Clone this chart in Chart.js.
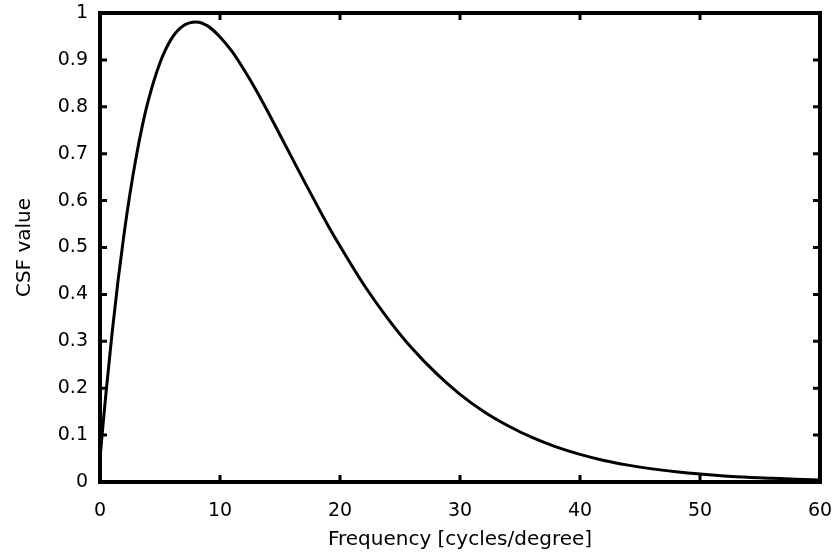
<!DOCTYPE html>
<html>
<head>
<meta charset="utf-8">
<script src="https://cdn.jsdelivr.net/npm/chart.js@4/dist/chart.umd.min.js"></script>
<style>
  html, body { margin: 0; padding: 0; background: #fff; }
  #wrap { width: 834px; height: 560px; }
</style>
</head>
<body>
<div id="wrap"><canvas id="c" width="834" height="560"></canvas></div>
<script>
// Spatial frequency (cycles/degree)
const frequency = [0, 0.25, 0.5, 1, 1.5, 2, 2.5, 3, 3.5, 4, 5, 6, 7, 8, 9, 10, 11, 12, 13, 14, 15, 16, 17, 18, 19, 20,
  22, 24, 26, 28, 30, 32, 34, 36, 38, 40, 42, 44, 46, 48, 50, 52, 54, 56, 58, 60];
// CSF value
const csfValue = [0.050, 0.122, 0.190, 0.316, 0.429, 0.528, 0.615, 0.691, 0.756, 0.811, 0.894, 0.947, 0.974, 0.981, 0.972, 0.949,
  0.918, 0.879, 0.836, 0.789, 0.740, 0.691, 0.642, 0.594, 0.547, 0.503,
  0.420, 0.348, 0.285, 0.232, 0.187, 0.150, 0.120, 0.095, 0.075, 0.059, 0.046, 0.036, 0.028, 0.022, 0.017, 0.013, 0.010, 0.008, 0.006, 0.0045];
const xTicks = [0, 10, 20, 30, 40, 50, 60];
const yTicks = [0, 0.1, 0.2, 0.3, 0.4, 0.5, 0.6, 0.7, 0.8, 0.9, 1];
const xTitle = 'Frequency [cycles/degree]';
const yTitle = 'CSF value';

const FONT = '"DejaVu Sans", Verdana, sans-serif';

const framePlugin = {
  id: 'frame',
  afterDatasetsDraw(chart) {
    const { ctx, chartArea: a, scales } = chart;
    ctx.save();
    ctx.strokeStyle = '#000';
    ctx.lineWidth = 4;
    ctx.strokeRect(a.left, a.top, a.right - a.left, a.bottom - a.top);
    ctx.lineWidth = 3;
    const tl = 7;
    ctx.beginPath();
    xTicks.forEach(v => {
      const px = scales.x.getPixelForValue(v);
      ctx.moveTo(px, a.bottom); ctx.lineTo(px, a.bottom - tl);
      ctx.moveTo(px, a.top); ctx.lineTo(px, a.top + tl);
    });
    yTicks.forEach(v => {
      const py = scales.y.getPixelForValue(v);
      ctx.moveTo(a.left, py); ctx.lineTo(a.left + tl, py);
      ctx.moveTo(a.right, py); ctx.lineTo(a.right - tl, py);
    });
    ctx.stroke();
    ctx.restore();
  }
};

new Chart(document.getElementById('c'), {
  type: 'line',
  data: {
    datasets: [{
      data: frequency.map((f, i) => ({ x: f, y: csfValue[i] })),
      borderColor: '#000',
      borderWidth: 3,
      pointRadius: 0,
      cubicInterpolationMode: 'monotone',
      fill: false
    }]
  },
  options: {
    responsive: false,
    animation: false,
    devicePixelRatio: 1,
    layout: { padding: { left: 0, right: 14, top: 13, bottom: 0 } },
    plugins: { legend: { display: false }, tooltip: { enabled: false } },
    scales: {
      x: {
        type: 'linear', min: 0, max: 60,
        afterFit(s) { s.height = 78; s.paddingLeft = 0; s.paddingRight = 0; },
        afterBuildTicks(s) { s.ticks = xTicks.map(v => ({ value: v })); },
        grid: { display: false, drawTicks: false },
        border: { display: false },
        ticks: { color: '#000', padding: 18, maxRotation: 0, font: { family: FONT, size: 19 } },
        title: { display: true, text: xTitle, color: '#000', padding: { top: 0, bottom: 8 }, font: { family: FONT, size: 20 } }
      },
      y: {
        type: 'linear', min: 0, max: 1,
        afterFit(s) { s.width = 100; s.paddingTop = 0; s.paddingBottom = 0; },
        afterBuildTicks(s) { s.ticks = yTicks.map(v => ({ value: v })); },
        grid: { display: false, drawTicks: false },
        border: { display: false },
        ticks: { color: '#000', padding: 12, font: { family: FONT, size: 19 },
          callback: v => String(v) },
        title: { display: true, text: yTitle, color: '#000', padding: { top: 13, bottom: 0 }, font: { family: FONT, size: 20 } }
      }
    }
  },
  plugins: [framePlugin]
});
</script>
</body>
</html>
